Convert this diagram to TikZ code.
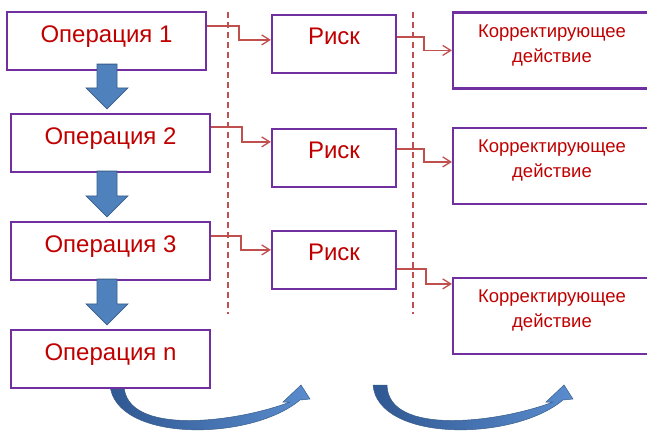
\documentclass[tikz,border=0pt]{standalone}
\usepackage{fontspec}
\setmainfont{Liberation Sans}
\usetikzlibrary{arrows.meta,calc}
\definecolor{boxpurple}{HTML}{7030A0}
\definecolor{txtred}{HTML}{C00000}
\definecolor{connred}{HTML}{C0504D}
\definecolor{arrblue}{HTML}{4F81BD}
\definecolor{arrborder}{HTML}{385D8A}
\definecolor{curvedark}{RGB}{48,88,146}
\definecolor{curvelight}{RGB}{90,140,206}
\begin{document}
\begin{tikzpicture}[x=1pt,y=-1pt,
  opbox/.style={draw=boxpurple, line width=2.2pt, fill=white, minimum width=199pt, minimum height=58pt,
    inner sep=0pt, text=txtred, font=\fontsize{24pt}{28pt}\selectfont, text height=17pt, text depth=15pt},
  riskbox/.style={draw=boxpurple, line width=2.2pt, fill=white, minimum width=124pt, minimum height=58pt,
    inner sep=0pt, text=txtred, font=\fontsize{24pt}{28pt}\selectfont, text height=17pt, text depth=17pt},
  cabox/.style={draw=boxpurple, line width=2.2pt, fill=white, minimum width=198pt, minimum height=76pt, inner sep=0pt},
  catext/.style={text=txtred, font=\fontsize{18.5pt}{25pt}\selectfont, align=center, inner sep=0pt, anchor=north},
  conn/.style={draw=connred, line width=1.3pt, -{Straight Barb[length=8pt,width=10pt]}},
  divider/.style={draw=connred, line width=1.4pt, dash pattern=on 6pt off 4pt},
  barrow/.style={fill=arrblue, draw=arrborder, line width=0.8pt, line join=miter},
  carrow/.style={left color=curvedark, right color=curvelight, draw=arrborder, line width=0.5pt}
]
\useasboundingbox (0,0) rectangle (647,431);
\clip (0,0) rectangle (647,431);

% dashed dividers
\coordinate (d1t) at (228,12);
\coordinate (d1b) at (228,314);
\coordinate (d2t) at (413,12);
\coordinate (d2b) at (413,314);
\draw[divider] (d1t) -- (d1b);
\draw[divider] (d2t) -- (d2b);

% curved arrows (drawn below the boxes)
\foreach \dx in {0,263}{
  \begin{scope}[xshift=\dx pt]
    \path[carrow] (110,385) .. controls (115,442) and (250,442) .. (300,400)
      -- (310,399) -- (301,385) -- (283,402) -- (290,402)
      .. controls (238,422) and (125,437) .. (124,385) -- cycle;
  \end{scope}
}

% operation boxes
\node[opbox] (op1) at (106.5,41) {Операция 1};
\node[opbox] (op2) at (110.5,143) {Операция 2};
\node[opbox] (op3) at (110.5,251) {Операция 3};
\node[opbox] (opn) at (110.5,359) {Операция n};

% risk boxes
\node[riskbox] (risk1) at (334,44) {Риск};
\node[riskbox] (risk2) at (334,158) {Риск};
\node[riskbox] (risk3) at (334,260) {Риск};

% corrective action boxes
\node[cabox] (ca1) at (552,50.5) {};
\node[cabox] (ca2) at (552,166) {};
\node[cabox] (ca3) at (552,316) {};
\foreach \c in {ca1,ca2,ca3}{
  \node[catext] (\c t) at ($(\c.north)+(0,13)$) {Корректирующее\\действие};
}

% connectors operation -> risk
\draw[conn] ([yshift=-15pt]op1.north east) -- ++(32,0) |- ([yshift=-26pt]risk1.north west);
\draw[conn] ([yshift=-14pt]op2.north east) -- ++(31,0) |- ([yshift=-14pt]risk2.north west);
\draw[conn] ([yshift=-15pt]op3.north east) -- ++(30,0) |- ([yshift=-20pt]risk3.north west);

% connectors risk -> corrective action
\draw[conn] ([yshift=-23pt]risk1.north east) -- ++(27,0) |- ([yshift=-39pt]ca1.north west);
\draw[conn] ([yshift=-21pt]risk2.north east) -- ++(27,0) |- ([yshift=-35pt]ca2.north west);
\draw[conn] ([yshift=-39pt]risk3.north east) -- ++(29,0) |- ([yshift=-7pt]ca3.north west);

% block arrows between operations
\coordinate (ax) at (107,0);
\foreach \a/\b/\o in {op1/op2/-7,op2/op3/-2,op3/opn/-2}{
  \coordinate (s) at ($(\a.south -| ax)+(0,\o)$);
  \coordinate (e) at ($(\b.north -| ax)+(0,-4)$);
  \draw[barrow] ($(s)+(-10,0)$) -- ($(s)+(10,0)$) -- ($(e)+(10,-21)$) -- ($(e)+(21,-21)$)
    -- (e) -- ($(e)+(-21,-21)$) -- ($(e)+(-10,-21)$) -- cycle;
}
\end{tikzpicture}
\end{document}
